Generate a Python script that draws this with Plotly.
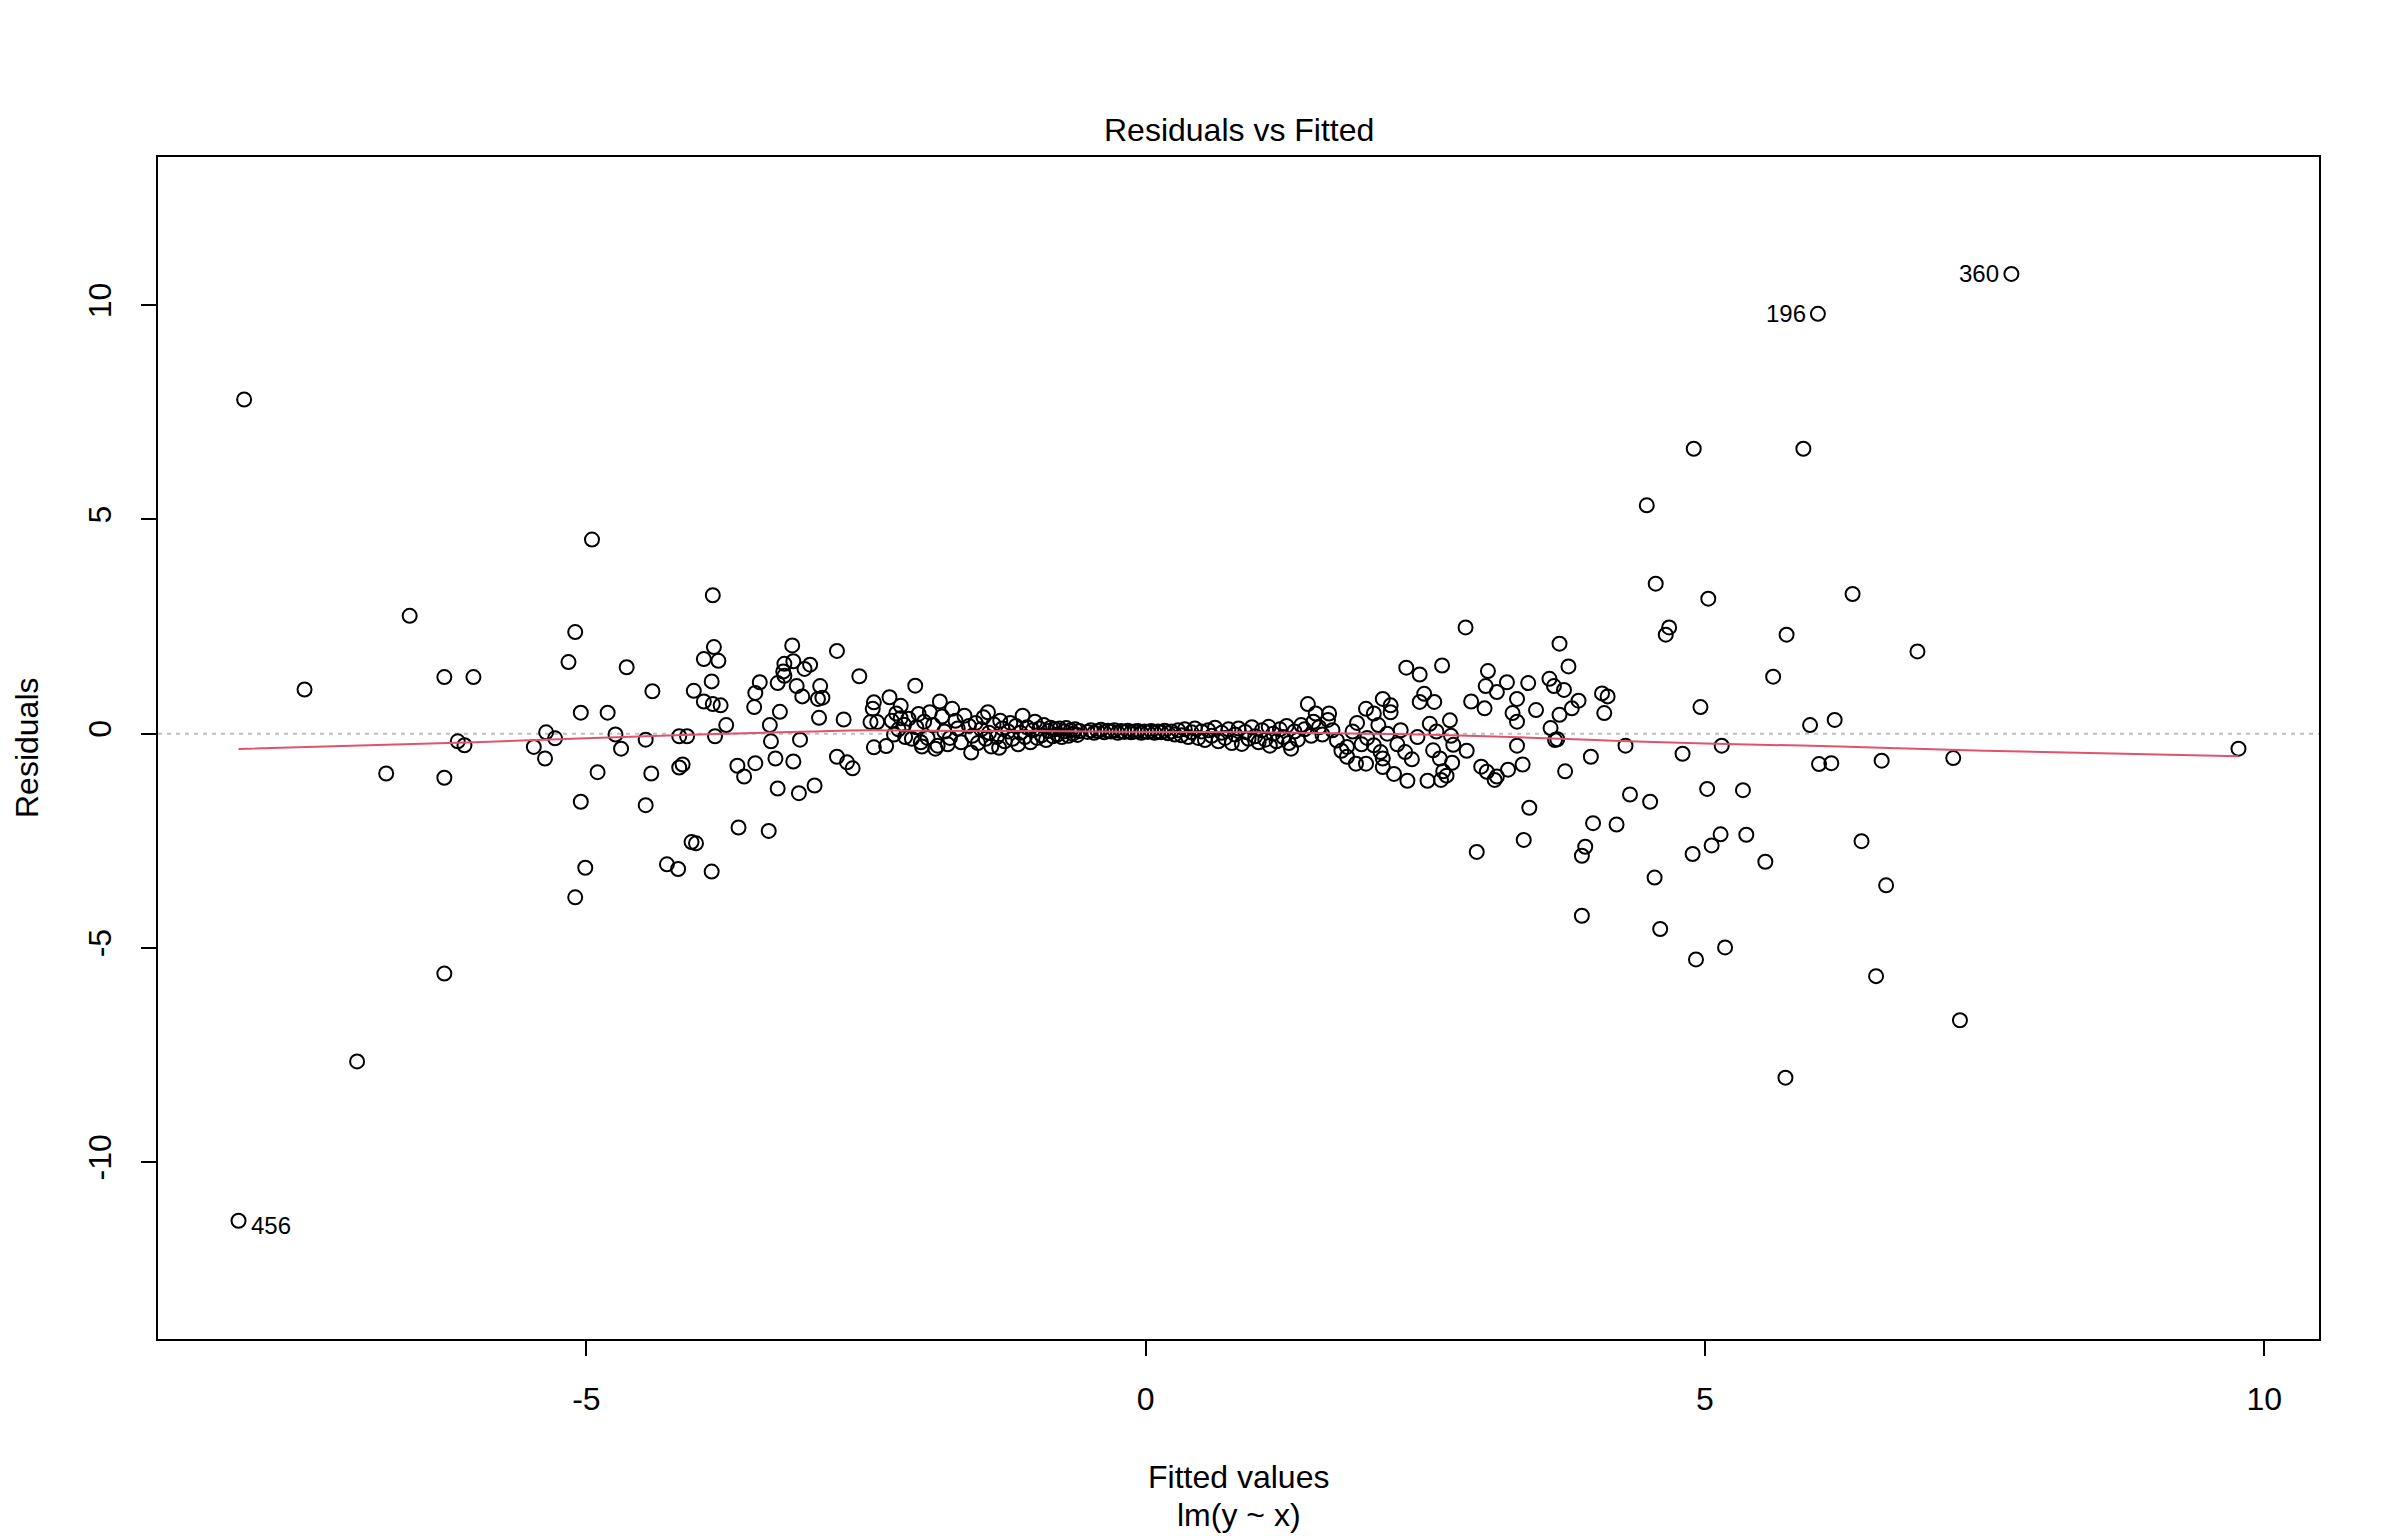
import plotly.graph_objects as go

# residuals vs fitted for lm(y ~ x)
# each list holds (fitted, residual) pairs for one stretch of the x axis
left_pts = [
    (-8.06, 7.80), (-8.11, -11.37), (-7.52, 1.03), (-7.05, -7.65), (-6.79, -0.93),
    (-6.58, 2.75), (-6.27, 1.32), (-6.01, 1.32), (-6.27, -1.03), (-6.27, -5.60),
    (-6.15, -0.18), (-6.09, -0.27), (-5.47, -0.31), (-5.37, -0.58), (-5.36, 0.03),
    (-5.28, -0.11), (-5.16, 1.67), (-5.10, 2.37), (-5.10, -3.82), (-5.05, 0.49),
    (-5.05, -1.59), (-5.01, -3.13), (-4.95, 4.53), (-4.90, -0.90), (-4.81, 0.49),
    (-4.74, -0.02), (-4.69, -0.35), (-4.64, 1.55), (-4.47, -0.14), (-4.47, -1.67),
    (-4.42, -0.93), (-4.41, 0.99), (-4.28, -3.05), (-4.18, -3.16), (-4.17, -0.06),
    (-4.17, -0.79), (-4.14, -0.72), (-4.10, -0.06), (-4.06, -2.53), (-4.02, -2.56),
    (-4.04, 1.00), (-3.95, 1.74), (-3.95, 0.75), (-3.88, 1.22), (-3.88, -3.22),
    (-3.87, 3.23), (-3.86, 2.02), (-3.87, 0.69), (-3.82, 1.70), (-3.80, 0.66),
    (-3.85, -0.06), (-3.75, 0.20),
]

mid_left_pts = [
    (-3.65, -0.75), (-3.64, -2.19), (-3.59, -1.00), (-3.50, 0.62), (-3.49, 0.95),
    (-3.49, -0.69), (-3.45, 1.20), (-3.37, -2.27), (-3.36, 0.20), (-3.35, -0.18),
    (-3.31, -0.58), (-3.29, -1.28), (-3.29, 1.18), (-3.27, 0.51), (-3.24, 1.45),
    (-3.23, 1.35), (-3.23, 1.63), (-3.16, 2.06), (-3.15, 1.69), (-3.15, -0.65),
    (-3.12, 1.11), (-3.10, -1.39), (-3.09, -0.14), (-3.07, 0.87), (-3.05, 1.51),
    (-3.00, 1.61), (-2.96, -1.21), (-2.93, 0.81), (-2.92, 0.37), (-2.91, 1.11),
    (-2.89, 0.84), (-2.76, 1.93), (-2.76, -0.54), (-2.70, 0.33), (-2.67, -0.67),
    (-2.62, -0.81), (-2.56, 1.34), (-2.46, 0.27), (-2.44, 0.58), (-2.43, 0.73),
    (-2.43, -0.32), (-2.40, 0.27), (-2.32, -0.29), (-2.29, 0.85), (-2.25, -0.02),
    (-2.23, 0.47), (-2.19, 0.65), (-2.19, 0.36), (-2.16, 0.21), (-2.15, -0.08),
    (-2.06, 1.12), (-2.03, 0.46), (-2.01, -0.20), (-2.00, -0.30), (-1.93, 0.50),
    (-1.86, -0.28), (-1.84, 0.75), (-1.77, -0.25), (-1.73, 0.58), (-1.56, -0.44),
    (-2.27, 0.30), (-2.21, 0.10), (-2.12, 0.35), (-2.09, -0.12), (-2.05, 0.15),
    (-1.98, 0.28), (-1.95, -0.10), (-1.90, 0.20), (-1.88, -0.35), (-1.82, 0.40),
    (-1.80, 0.05), (-1.75, -0.10), (-1.70, 0.30), (-1.68, 0.12), (-1.65, -0.20),
    (-1.62, 0.42), (-1.58, 0.18), (-1.55, -0.05), (-1.52, 0.25), (-1.50, -0.22),
]

band_pts = [
    (-1.47, 0.10), (-1.45, 0.38), (-1.43, -0.12), (-1.41, 0.50), (-1.40, 0.02),
    (-1.38, -0.30), (-1.36, 0.22), (-1.33, -0.08), (-1.31, -0.33), (-1.30, 0.30),
    (-1.28, 0.12), (-1.26, -0.18), (-1.23, 0.05), (-1.21, 0.25), (-1.19, -0.12),
    (-1.16, 0.18), (-1.14, -0.25), (-1.12, 0.02), (-1.10, 0.42), (-1.08, -0.08),
    (-1.06, 0.15), (-1.03, -0.20), (-1.01, 0.08), (-0.99, 0.28), (-0.97, -0.10),
    (-0.95, 0.12), (-0.93, -0.04), (-0.91, 0.20), (-0.89, -0.15), (-0.87, 0.06),
    (-0.85, 0.14), (-0.83, -0.06), (-0.81, 0.10), (-0.79, -0.02), (-0.77, 0.12),
    (-0.75, -0.08), (-0.73, 0.05), (-0.71, 0.13), (-0.69, -0.05), (-0.67, 0.08),
    (-0.65, 0.00), (-0.63, 0.10), (-0.61, -0.03), (-0.59, 0.06),
    (-0.52, 0.04), (-0.49, 0.08), (-0.46, 0.02), (-0.43, 0.06), (-0.40, 0.09),
    (-0.37, 0.03), (-0.34, 0.07), (-0.31, 0.05), (-0.28, 0.08), (-0.25, 0.02),
    (-0.22, 0.06), (-0.19, 0.04), (-0.16, 0.07), (-0.13, 0.03), (-0.10, 0.05),
    (-0.07, 0.06), (-0.04, 0.02), (-0.01, 0.05), (0.02, 0.04), (0.05, 0.06),
    (0.08, 0.02), (0.11, 0.05), (0.14, 0.03), (0.17, 0.07), (0.20, 0.01),
    (0.23, 0.05), (0.26, -0.02), (0.29, 0.08),
    (0.32, -0.04), (0.35, 0.10), (0.38, -0.08), (0.41, 0.03), (0.44, 0.12),
    (0.47, -0.10), (0.50, 0.05), (0.53, -0.15), (0.56, 0.08), (0.59, -0.05),
    (0.62, 0.14), (0.65, -0.18), (0.68, 0.02), (0.71, -0.10), (0.74, 0.10),
    (0.77, -0.22), (0.80, -0.02), (0.83, 0.12), (0.86, -0.24), (0.89, 0.04),
    (0.92, -0.12), (0.95, 0.15), (0.98, -0.06), (1.01, -0.20), (1.04, 0.08),
    (1.07, -0.14), (1.10, 0.16), (1.11, -0.28), (1.14, 0.00), (1.17, -0.18),
    (1.20, 0.10), (1.23, -0.08), (1.26, 0.18), (1.28, -0.22), (1.30, -0.35),
    (1.33, 0.05), (1.36, -0.14), (1.39, 0.20),
]

mid_right_pts = [
    (1.45, 0.69), (1.52, 0.47), (1.64, 0.47), (1.63, 0.32), (1.50, 0.28),
    (1.71, -0.16), (1.80, -0.31), (1.80, -0.54), (1.88, -0.70), (1.97, -0.70),
    (1.89, 0.25), (1.97, 0.58), (2.04, 0.47), (2.12, 0.81), (2.19, 0.66),
    (2.19, 0.50), (1.98, -0.10), (2.04, -0.27), (2.10, -0.43), (2.12, -0.78),
    (2.12, -0.58), (2.22, -0.94), (2.34, -1.10), (2.28, 0.08), (2.32, -0.43),
    (2.33, 1.54), (2.45, 1.38), (2.49, 0.93), (2.45, 0.74), (2.58, 0.74),
    (2.43, -0.08), (2.54, 0.23), (2.57, -0.39), (2.63, -0.58), (2.52, -1.10),
    (2.72, 0.31), (1.42, 0.10), (1.48, -0.05), (1.55, 0.15), (1.58, -0.02),
    (1.67, 0.08), (1.75, -0.40), (1.85, 0.05), (1.93, -0.25), (2.08, 0.20),
    (2.16, 0.00), (2.25, -0.25), (2.38, -0.60), (2.60, 0.05),
]

right_pts = [
    (4.56, 3.50), (5.03, 3.15), (2.86, 2.48), (4.68, 2.48), (4.65, 2.31),
    (5.73, 2.31), (3.70, 2.10), (2.65, 1.59), (3.78, 1.57), (3.06, 1.46),
    (5.61, 1.33), (3.04, 1.11), (3.23, 1.20), (3.42, 1.18), (3.61, 1.28),
    (3.65, 1.11), (3.74, 1.02), (3.14, 0.97), (2.91, 0.75), (3.32, 0.81),
    (3.03, 0.59), (3.28, 0.48), (3.32, 0.28), (3.49, 0.55), (3.87, 0.77),
    (3.81, 0.59), (3.70, 0.44), (4.08, 0.94), (4.13, 0.87), (4.10, 0.48),
    (4.96, 0.62), (5.94, 0.20), (6.16, 0.32), (3.62, 0.13), (2.73, -0.05),
    (2.75, -0.26), (3.66, -0.15), (3.68, -0.13), (2.87, -0.40), (3.32, -0.28),
    (4.29, -0.28), (5.15, -0.28), (3.98, -0.54), (4.80, -0.47), (2.74, -0.68),
    (2.66, -0.88), (2.69, -0.98), (2.64, -1.08), (3.00, -0.77), (3.05, -0.89),
    (3.14, -1.00), (3.12, -1.08), (3.24, -0.84), (3.37, -0.72), (3.75, -0.88),
    (6.02, -0.71), (6.13, -0.69), (4.33, -1.42), (4.51, -1.59), (5.02, -1.29),
    (5.34, -1.32), (3.43, -1.73), (4.00, -2.09), (4.21, -2.12), (3.38, -2.48),
    (5.14, -2.35), (5.37, -2.36), (5.06, -2.61), (4.89, -2.81), (2.96, -2.76),
    (3.93, -2.64), (3.90, -2.85), (5.54, -2.99), (4.55, -3.36), (3.90, -4.25),
    (4.60, -4.56), (5.18, -4.99), (4.92, -5.27),
    (4.90, 6.65), (5.88, 6.65), (4.48, 5.33), (6.32, 3.26), (6.90, 1.92),
    (6.58, -0.63), (7.22, -0.57), (9.77, -0.35), (6.40, -2.51), (6.62, -3.54),
    (6.53, -5.66), (7.28, -6.69), (5.72, -8.03), (6.01, 9.80), (7.74, 10.73),
]

# lowess smoother (red line)
smooth_x = [-8.11, -6.0, -5.0, -4.0, -3.0, -2.5, -2.0, -1.0, 0.0, 1.0, 2.0,
            2.64, 3.5, 4.24, 5.0, 6.21, 7.5, 9.77]
smooth_y = [-0.36, -0.20, -0.11, -0.02, 0.05, 0.08, 0.07, 0.06, 0.04, 0.03, 0.0,
            -0.03, -0.10, -0.17, -0.23, -0.30, -0.40, -0.53]

# the three largest residuals get their observation number
id_labels = ["456", "196", "360"]
id_fitted = [-8.11, 6.01, 7.74]
id_resid = [-11.37, 9.80, 10.73]

all_pts = left_pts + mid_left_pts + band_pts + mid_right_pts + right_pts
fitted = [p[0] for p in all_pts]
resid = [p[1] for p in all_pts]

FONT = "Liberation Sans, Arial, Helvetica, sans-serif"

fig = go.Figure()
fig.add_trace(go.Scatter(
    x=fitted, y=resid, mode="markers",
    marker=dict(symbol="circle-open", size=14, color="black",
                line=dict(width=2, color="black")),
    showlegend=False,
))
fig.add_trace(go.Scatter(
    x=smooth_x, y=smooth_y, mode="lines", line_shape="spline",
    line=dict(color="#DF536B", width=2), showlegend=False,
))

# dotted zero line across the whole panel
fig.add_shape(type="line", xref="paper", yref="y", x0=0, x1=1, y0=0, y1=0,
              line=dict(color="#BEBEBE", width=2, dash="4px,5px"), layer="below")

for lab, fx, ry in zip(id_labels, id_fitted, id_resid):
    right_side = fx < 0
    fig.add_annotation(
        x=fx, y=ry, text=lab, showarrow=False,
        xanchor="left" if right_side else "right",
        xshift=10 if right_side else -10, yshift=-5 if right_side else 0,
        font=dict(family=FONT, size=24, color="black"),
    )

# titles, R style
fig.add_annotation(x=0.5, y=1, xref="paper", yref="paper", yshift=27,
                   text="Residuals vs Fitted", showarrow=False, yanchor="middle",
                   font=dict(family=FONT, size=32, color="black"))
fig.add_annotation(x=0.5, y=0, xref="paper", yref="paper", yshift=-138,
                   text="Fitted values", showarrow=False, yanchor="middle",
                   font=dict(family=FONT, size=32, color="black"))
fig.add_annotation(x=0.5, y=0, xref="paper", yref="paper", yshift=-176,
                   text="lm(y ~ x)", showarrow=False, yanchor="middle",
                   font=dict(family=FONT, size=32, color="black"))
fig.add_annotation(x=0, y=0.5, xref="paper", yref="paper", xshift=-131,
                   text="Residuals", showarrow=False, textangle=-90,
                   xanchor="center", yanchor="middle", borderpad=0,
                   font=dict(family=FONT, size=32, color="black"))

axis_common = dict(
    showgrid=False, zeroline=False, showline=True, linecolor="black",
    linewidth=2, mirror=True, ticks="outside", ticklen=15, tickwidth=2,
    tickcolor="black", tickfont=dict(family=FONT, size=32, color="black"),
)
fig.update_xaxes(range=[-8.83, 10.49], tickvals=[-5, 0, 5, 10],
                 ticktext=["-5", "0", "5", "10"], ticklabelstandoff=16,
                 **axis_common)
fig.update_yaxes(range=[-14.13, 13.46], tickvals=[-10, -5, 0, 5, 10],
                 ticktext=["-10", "-5", "0", "5", "10"], tickangle=-90,
                 ticklabelstandoff=17, **axis_common)

# the page body adds an 8px margin, so the figure is 8px smaller each way
fig.update_layout(
    width=2392, height=1528,
    margin=dict(l=150, r=81, t=149, b=197),
    plot_bgcolor="white", paper_bgcolor="white",
    font=dict(family=FONT, color="black"),
)

fig.write_html("out.html")
